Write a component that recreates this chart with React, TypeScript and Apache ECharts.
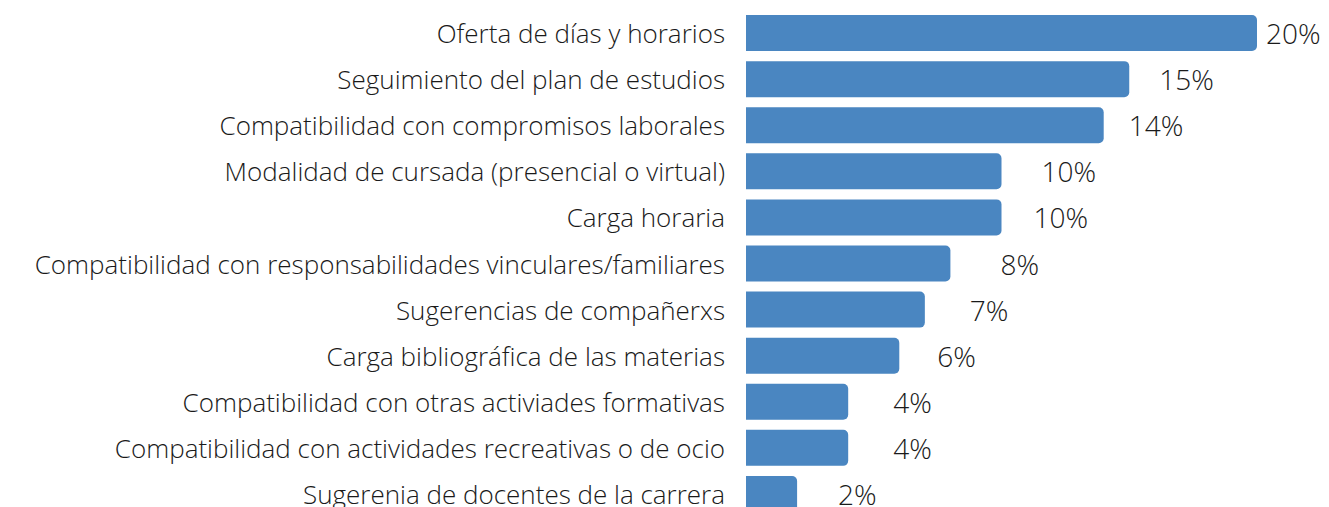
import React, { useEffect, useRef } from "react";
import * as echarts from "echarts";

const categories = [
  "Oferta de días y horarios",
  "Seguimiento del plan de estudios",
  "Compatibilidad con compromisos laborales",
  "Modalidad de cursada (presencial o virtual)",
  "Carga horaria",
  "Compatibilidad con responsabilidades vinculares/familiares",
  "Sugerencias de compañerxs",
  "Carga bibliográfica de las materias",
  "Compatibilidad con otras activiades formativas",
  "Compatibilidad con actividades recreativas o de ocio",
  "Sugerenia de docentes de la carrera",
];
const values = [20, 15, 14, 10, 10, 8, 7, 6, 4, 4, 2];
// label gap to the right of each bar end (style only)
const labelGaps = [9, 30, 25, 40, 32, 50, 45, 38, 45, 45, 41];

export default function App() {
  const ref = useRef<HTMLDivElement>(null);
  useEffect(() => {
    document.body.style.margin = "0";
    const chart = echarts.init(ref.current!, null, { renderer: "svg" });
    const font = "Open Sans";
    chart.setOption({
      animation: false,
      grid: { left: 746, width: 511, top: 10, height: 507 },
      xAxis: { type: "value", min: 0, max: 20, show: false },
      yAxis: {
        type: "category",
        data: categories,
        inverse: true,
        axisLine: { show: false },
        axisTick: { show: false },
        axisLabel: { color: "#1a1a1a", fontSize: 26, fontFamily: font, fontWeight: 300, margin: 21 },
      },
      series: [
        {
          type: "bar",
          barWidth: 36,
          data: values.map((v, i) => ({
            value: v,
            label: { distance: labelGaps[i] },
          })),
          itemStyle: { color: "#4a86c1", borderRadius: [0, 5, 5, 0] },
          label: {
            show: true,
            position: "right",
            formatter: "{c}%",
            color: "#1a1a1a",
            fontSize: 28,
            fontFamily: font,
            fontWeight: 300,
          },
        },
      ],
    });
    return () => chart.dispose();
  }, []);
  return <div ref={ref} style={{ width: 1329, height: 530 }} />;
}
